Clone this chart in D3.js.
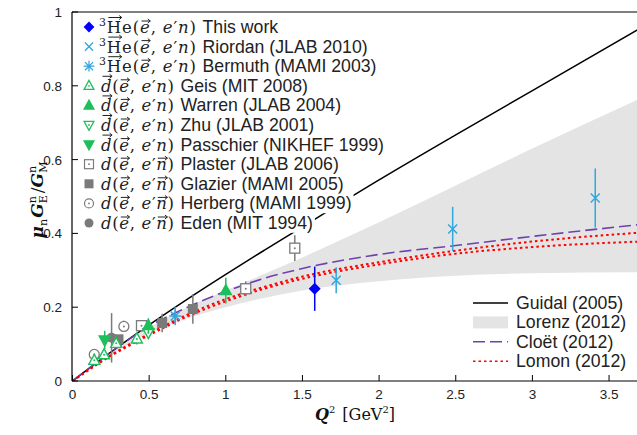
<!DOCTYPE html>
<html lang="en">
  <head>
    <meta charset="UTF-8" />
    <script src="https://d3js.org/d3.v7.min.js"></script>
    <style>
      body { margin: 0; background: #fff; }
      text { font-family: 'Liberation Sans', Arial, sans-serif; }
    </style>
  </head>
  <body>
    <div id="chart"></div>
    <script>
      // theory curves, sampled on a common Q^2 grid
      const theoryQ2 = [0, 0.25, 0.5, 0.75, 1, 1.25, 1.5, 2, 2.5, 3, 3.7]
      const guidal = [0, 0.078, 0.152, 0.222, 0.289, 0.354, 0.418, 0.545, 0.667, 0.787, 0.955]
      const lorenzHi = [0, 0.075, 0.145, 0.2, 0.245, 0.29, 0.335, 0.43, 0.53, 0.63, 0.765]
      const lorenzLo = [0, 0.07, 0.13, 0.17, 0.2, 0.225, 0.245, 0.27, 0.285, 0.292, 0.295]
      const cloet = [0, 0.078, 0.148, 0.2, 0.243, 0.278, 0.305, 0.343, 0.367, 0.392, 0.424]
      const lomonA = [0, 0.07, 0.128, 0.18, 0.222, 0.255, 0.283, 0.322, 0.353, 0.378, 0.402]
      const lomonB = [0, 0.068, 0.124, 0.175, 0.216, 0.25, 0.277, 0.316, 0.345, 0.363, 0.378]

      // measurements: Q2, value, error
      const thisWorkQ2 = [1.58], thisWorkVal = [0.25], thisWorkErr = [0.06]
      const riordanQ2 = [1.72, 2.48, 3.41], riordanVal = [0.273, 0.412, 0.496], riordanErr = [0.035, 0.06, 0.08]
      const bermuthQ2 = [0.67], bermuthVal = [0.176], bermuthErr = [0.025]
      const geisQ2 = [0.142, 0.206, 0.285, 0.42], geisVal = [0.056, 0.071, 0.102, 0.114], geisErr = [0.01, 0.01, 0.012, 0.015]
      const warrenQ2 = [0.495, 1.0], warrenVal = [0.15, 0.245], warrenErr = [0.02, 0.035]
      const zhuQ2 = [0.495], zhuVal = [0.131], zhuErr = [0.016]
      const passchierQ2 = [0.21], passchierVal = [0.111], passchierErr = [0.025]
      const plasterQ2 = [0.45, 1.13, 1.45], plasterVal = [0.15, 0.25, 0.36], plasterErr = [0.012, 0.02, 0.035]
      const glazierQ2 = [0.3, 0.585, 0.785], glazierVal = [0.113, 0.157, 0.195], glazierErr = [0.01, 0.025, 0.04]
      const herbergQ2 = [0.142, 0.335], herbergVal = [0.072, 0.148], herbergErr = [0.012, 0.015]
      const edenQ2 = [0.255], edenVal = [0.117], edenErr = [0.067]

      const xTicks = [0, 0.5, 1, 1.5, 2, 2.5, 3, 3.5]
      const yTicks = [0, 0.2, 0.4, 0.6, 0.8, 1]

      const blue = '#0000ff', cyan = '#2ea8df', green = '#1dbf5b', gray = '#7a7a7a'

      // math label pieces
      const he3 = [
        { t: '3', sup: true }, { t: 'H', arrow: 'cap' }, { t: 'e' }, { t: '(' },
        { t: 'e', it: true, arrow: 'low' }, { t: ', ' }, { t: 'e', it: true }, { t: '′' },
        { t: 'n', it: true }, { t: ')' }
      ]
      const dPol = [
        { t: 'd', it: true, arrow: 'cap' }, { t: '(' }, { t: 'e', it: true, arrow: 'low' },
        { t: ', ' }, { t: 'e', it: true }, { t: '′' }, { t: 'n', it: true }, { t: ')' }
      ]
      const dRec = [
        { t: 'd', it: true }, { t: '(' }, { t: 'e', it: true, arrow: 'low' },
        { t: ', ' }, { t: 'e', it: true }, { t: '′' }, { t: 'n', it: true, arrow: 'low' }, { t: ')' }
      ]

      const datasets = [
        { name: 'This work', math: he3, mk: 'diamond', c: blue, q: thisWorkQ2, v: thisWorkVal, e: thisWorkErr },
        { name: 'Riordan (JLAB 2010)', math: he3, mk: 'x', c: cyan, q: riordanQ2, v: riordanVal, e: riordanErr },
        { name: 'Bermuth (MAMI 2003)', math: he3, mk: 'star', c: cyan, q: bermuthQ2, v: bermuthVal, e: bermuthErr },
        { name: 'Geis (MIT 2008)', math: dPol, mk: 'triUpOpen', c: green, q: geisQ2, v: geisVal, e: geisErr },
        { name: 'Warren (JLAB 2004)', math: dPol, mk: 'triUp', c: green, q: warrenQ2, v: warrenVal, e: warrenErr },
        { name: 'Zhu (JLAB 2001)', math: dPol, mk: 'triDownOpen', c: green, q: zhuQ2, v: zhuVal, e: zhuErr },
        { name: 'Passchier (NIKHEF 1999)', math: dPol, mk: 'triDown', c: green, q: passchierQ2, v: passchierVal, e: passchierErr },
        { name: 'Plaster (JLAB 2006)', math: dRec, mk: 'sqOpen', c: gray, q: plasterQ2, v: plasterVal, e: plasterErr },
        { name: 'Glazier (MAMI 2005)', math: dRec, mk: 'sq', c: gray, q: glazierQ2, v: glazierVal, e: glazierErr },
        { name: 'Herberg (MAMI 1999)', math: dRec, mk: 'circOpen', c: gray, q: herbergQ2, v: herbergVal, e: herbergErr },
        { name: 'Eden (MIT 1994)', math: dRec, mk: 'circ', c: gray, q: edenQ2, v: edenVal, e: edenErr }
      ]

      const W = 637, H = 435
      const svg = d3.select('#chart').append('svg').attr('width', W).attr('height', H)

      const x = d3.scaleLinear().domain([0, 3.7]).range([72.5, 72.5 + 3.7 * 153.3])
      const y = d3.scaleLinear().domain([0, 1]).range([381, 12])

      svg.append('clipPath').attr('id', 'clip')
        .append('rect').attr('x', 72).attr('y', 12).attr('width', W - 72).attr('height', 369)
      const plot = svg.append('g').attr('clip-path', 'url(#clip)')

      // Lorenz band
      plot.append('path')
        .datum(theoryQ2.map((q, i) => [q, lorenzLo[i], lorenzHi[i]]))
        .attr('d', d3.area().x(d => x(d[0])).y0(d => y(d[1])).y1(d => y(d[2])).curve(d3.curveMonotoneX))
        .attr('fill', '#e4e4e4')

      const line = arr => d3.line().x((d, i) => x(theoryQ2[i])).y(d => y(d)).curve(d3.curveMonotoneX)(arr)

      plot.append('path').attr('d', line(guidal)).attr('fill', 'none').attr('stroke', '#000').attr('stroke-width', 1.5)
      plot.append('path').attr('d', line(cloet)).attr('fill', 'none').attr('stroke', '#7040b0')
        .attr('stroke-width', 1.6).attr('stroke-dasharray', '12,5')
      plot.append('path').attr('d', line(lomonA)).attr('fill', 'none').attr('stroke', '#ff0000')
        .attr('stroke-width', 2).attr('stroke-dasharray', '2.5,3')
      plot.append('path').attr('d', line(lomonB)).attr('fill', 'none').attr('stroke', '#ff0000')
        .attr('stroke-width', 2).attr('stroke-dasharray', '2.5,3')

      function marker(g, type, c, cx, cy, s = 1) {
        const m = g.append('g').attr('transform', `translate(${cx},${cy}) scale(${s})`)
        if (type === 'diamond') {
          m.append('path').attr('d', 'M0,-6L6,0L0,6L-6,0Z').attr('fill', c)
        } else if (type === 'x') {
          m.append('path').attr('d', 'M-4.5,-4.5L4.5,4.5M-4.5,4.5L4.5,-4.5').attr('stroke', c).attr('stroke-width', 1.5)
        } else if (type === 'star') {
          m.append('path').attr('d', 'M-4.5,-4.5L4.5,4.5M-4.5,4.5L4.5,-4.5M0,-6L0,6M-6,0L6,0').attr('stroke', c).attr('stroke-width', 1.4)
        } else if (type.startsWith('tri')) {
          const d = type.startsWith('triUp') ? 'M0,-6L5.5,4L-5.5,4Z' : 'M0,6L5.5,-4L-5.5,-4Z'
          const open = type.endsWith('Open')
          m.append('path').attr('d', d).attr('fill', open ? '#fff' : c).attr('stroke', c).attr('stroke-width', 1.4)
          if (open) m.append('circle').attr('r', 1).attr('fill', c)
        } else if (type.startsWith('sq')) {
          const open = type === 'sqOpen'
          m.append('rect').attr('x', -5).attr('y', -5).attr('width', 10).attr('height', 10)
            .attr('fill', open ? '#fff' : c).attr('stroke', c).attr('stroke-width', open ? 1.3 : 0)
          if (open) m.append('circle').attr('r', 1).attr('fill', c)
        } else {
          const open = type === 'circOpen'
          m.append('circle').attr('r', 5).attr('fill', open ? '#fff' : c).attr('stroke', c).attr('stroke-width', open ? 1.3 : 0)
          if (open) m.append('circle').attr('r', 1).attr('fill', c)
        }
      }

      // data points with error bars, drawn last series first
      const pts = svg.append('g')
      datasets.slice().reverse().forEach(ds => {
        ds.q.forEach((q, i) => {
          pts.append('line')
            .attr('x1', x(q)).attr('x2', x(q))
            .attr('y1', y(ds.v[i] - ds.e[i])).attr('y2', y(ds.v[i] + ds.e[i]))
            .attr('stroke', ds.c).attr('stroke-width', 1.5)
          marker(pts, ds.mk, ds.c, x(q), y(ds.v[i]))
        })
      })

      // axes
      const ax = svg.append('g')
      ax.append('line').attr('x1', 72).attr('x2', W).attr('y1', 381).attr('y2', 381).attr('stroke', '#000').attr('stroke-width', 1.2)
      ax.append('line').attr('x1', 72).attr('x2', W).attr('y1', 12).attr('y2', 12).attr('stroke', '#000').attr('stroke-width', 1.2)
      ax.append('line').attr('x1', 72).attr('x2', 72).attr('y1', 12).attr('y2', 381).attr('stroke', '#000').attr('stroke-width', 1.2)
      xTicks.forEach(t => {
        ax.append('line').attr('x1', x(t)).attr('x2', x(t)).attr('y1', 381).attr('y2', 375).attr('stroke', '#000')
        ax.append('text').attr('x', x(t)).attr('y', 399).attr('text-anchor', 'middle')
          .style('font-size', '13.5px').attr('fill', '#222').text(t)
      })
      yTicks.forEach(t => {
        ax.append('line').attr('x1', 72).attr('x2', 78).attr('y1', y(t)).attr('y2', y(t)).attr('stroke', '#000')
        ax.append('text').attr('x', 62).attr('y', y(t) + 5).attr('text-anchor', 'end')
          .style('font-size', '13.5px').attr('fill', '#222').text(t)
      })

      // axis titles
      const serif = "'DejaVu Serif', 'Liberation Serif', serif"
      const xl = svg.append('text').attr('x', 355).attr('y', 420).attr('text-anchor', 'middle')
        .style('font-family', serif).style('font-size', '16px').attr('fill', '#111')
      xl.append('tspan').text('Q').style('font-style', 'italic').style('font-weight', 'bold')
      xl.append('tspan').text('2').style('font-size', '10px').attr('dy', -7)
      xl.append('tspan').text(' [GeV').attr('dy', 7).attr('dx', 2)
      xl.append('tspan').text('2').style('font-size', '10px').attr('dy', -7)
      xl.append('tspan').text(']').attr('dy', 7)

      const yl = svg.append('text').attr('transform', 'translate(43,200) rotate(-90)').attr('text-anchor', 'middle')
        .style('font-family', serif).style('font-size', '17px').attr('fill', '#111')
      yl.append('tspan').text('μ').style('font-style', 'italic').style('font-weight', 'bold')
      yl.append('tspan').text('n').style('font-size', '11px').attr('dy', 4)
      yl.append('tspan').text('G').style('font-style', 'italic').style('font-weight', 'bold').attr('dy', -4).attr('dx', 1)
      yl.append('tspan').text('n').style('font-size', '11px').attr('dy', -7)
      yl.append('tspan').text('E').style('font-size', '11px').attr('dx', -7).attr('dy', 11)
      yl.append('tspan').text('/').attr('dy', -4).attr('dx', 2)
      yl.append('tspan').text('G').style('font-style', 'italic').style('font-weight', 'bold')
      yl.append('tspan').text('n').style('font-size', '11px').attr('dy', -7)
      yl.append('tspan').text('M').style('font-size', '11px').attr('dx', -7).attr('dy', 11)

      // data legend (top left), each row on its own white background
      const leg = svg.append('g')
      datasets.forEach((ds, k) => {
        const cy = 27 + k * 19.6
        const row = leg.append('g')
        const bg = row.append('rect').attr('fill', '#fff')
        marker(row, ds.mk, ds.c, 89, cy, 0.9)
        const mathW = ds.math === he3 ? 97 : 73
        const mx = ds.math === he3 ? 99 : 101
        const txt = row.append('text').attr('x', mx).attr('y', cy + 6).attr('fill', '#222')
          .style('font-family', serif).style('font-size', '16.5px')
          .attr('textLength', mathW).attr('lengthAdjust', 'spacing')
        let base = 0
        const arrows = []
        let idx = 0
        ds.math.forEach(p => {
          const ts = txt.append('tspan').text(p.t)
          if (p.it) ts.style('font-style', 'italic')
          if (p.sup) { ts.style('font-size', '11px').attr('dy', -7); base = -7 }
          else if (base !== 0) { ts.attr('dy', -base); base = 0 }
          if (p.arrow) arrows.push({ i: idx, kind: p.arrow })
          idx += p.t.length
        })
        const name = row.append('text').attr('x', mx + mathW + 6.5).attr('y', cy + 6).attr('fill', '#222')
          .style('font-size', '17.7px').text(ds.name)
        arrows.forEach(a => {
          const ext = txt.node().getExtentOfChar(a.i)
          const yA = cy + 6 - (a.kind === 'cap' ? 15.5 : 12)
          const x0 = ext.x + 1.5, x1 = ext.x + ext.width + 0.5
          row.append('path').attr('d', `M${x0},${yA}L${x1},${yA}M${x1 - 2.5},${yA - 2}L${x1},${yA}L${x1 - 2.5},${yA + 2}`)
            .attr('fill', 'none').attr('stroke', '#222').attr('stroke-width', 1)
        })
        const bb = name.node().getBBox()
        bg.attr('x', 81).attr('y', cy - 9.8).attr('width', bb.x + bb.width - 81 + 2).attr('height', 19.6)
      })

      // model legend (bottom right)
      const models = ['Guidal (2005)', 'Lorenz (2012)', 'Cloët (2012)', 'Lomon (2012)']
      const mleg = svg.append('g')
      models.forEach((m, k) => {
        const cy = 303 + k * 19.4
        if (k === 1) {
          mleg.append('rect').attr('x', 473).attr('y', cy - 6).attr('width', 35).attr('height', 12).attr('fill', '#e4e4e4')
        } else {
          const st = [['#000', null, 1.5], null, ['#7040b0', '12,5', 1.6], ['#ff0000', '2.5,3', 1.6]][k]
          mleg.append('line').attr('x1', 473).attr('x2', 508).attr('y1', cy).attr('y2', cy)
            .attr('stroke', st[0]).attr('stroke-width', st[2]).attr('stroke-dasharray', st[1])
        }
        mleg.append('text').attr('x', 516).attr('y', cy + 6).style('font-size', '17.7px').attr('fill', '#222').text(m)
      })
    </script>
  </body>
</html>
